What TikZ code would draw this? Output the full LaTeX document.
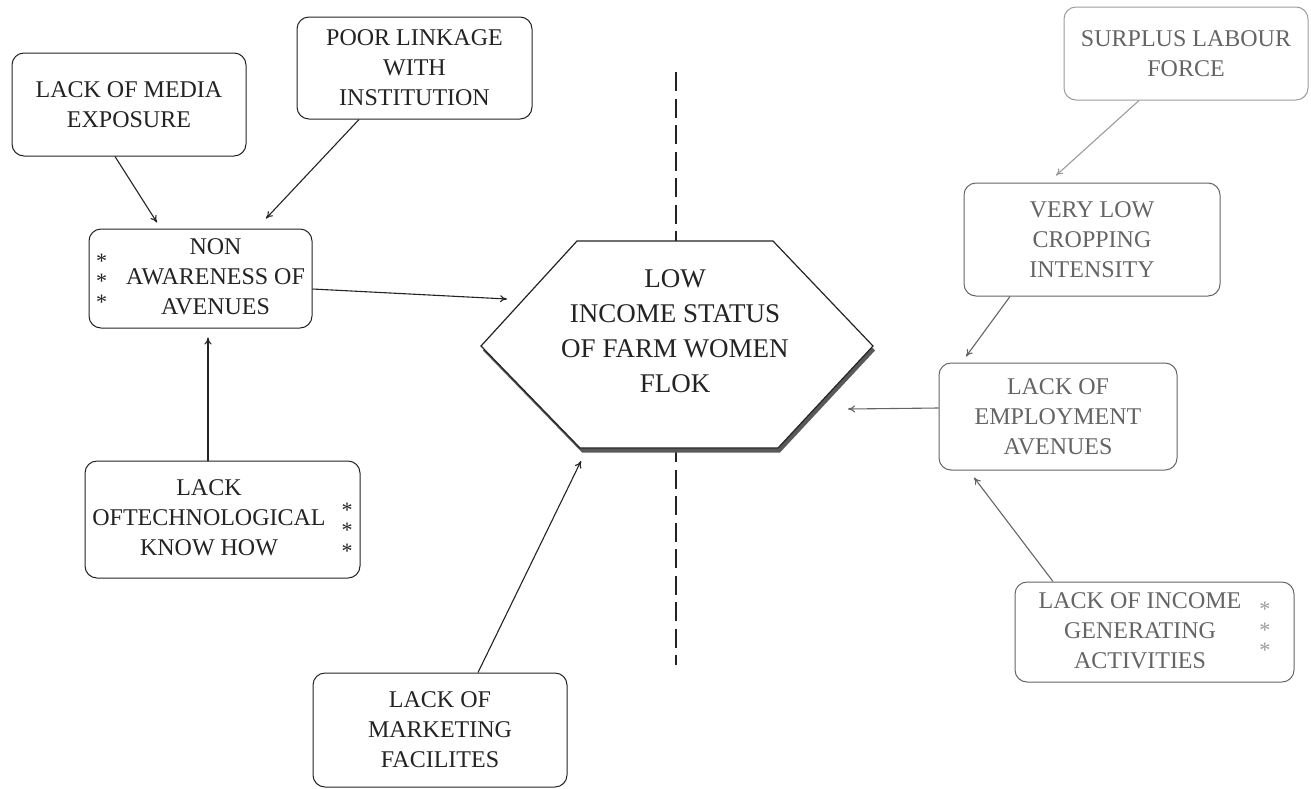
\documentclass[tikz,border=0pt]{standalone}
\usepackage{fontspec}
\setmainfont{Liberation Serif}
\usepackage{tikz}
\usetikzlibrary{arrows.meta}
\definecolor{ink}{RGB}{35, 35, 35}
\definecolor{faded}{RGB}{100, 100, 100}
\definecolor{pale}{RGB}{155, 155, 155}
\newcommand{\boxlines}[1]{\begin{tabular}{@{}c@{}}#1\end{tabular}}
\newcommand{\stars}[1][0pt]{\raisebox{#1}{\fontsize{22}{20.5}\selectfont\begin{tabular}{@{}c@{}}*\\{}*\\{}*\end{tabular}}}

\begin{document}
\begin{tikzpicture}[x=1pt, y=-1pt, thick,
  box/.style={draw=ink, text=ink, line width=1pt, rounded corners=12pt, align=center,
    inner sep=0pt, font=\fontsize{24}{30}\selectfont},
  arr/.style={-{To[length=7pt, width=7pt]}, line width=1.1pt, draw=ink}]

  \useasboundingbox (0, 0) rectangle (1311, 788);

  % dashed axis behind the hexagon
  \coordinate (axistop) at (676, 72);
  \coordinate (axisbot) at (676, 665);
  \draw[ink, line width=1.2pt, dash pattern=on 19pt off 7.5pt] (axistop) -- (axisbot);

  % hexagon with its shadow
  \fill[gray!70!black, shift={(2, 4.5)}] (577, 241) -- (773, 241) -- (873, 346)
    -- (778, 448) -- (580, 448) -- (481, 346) -- cycle;
  \filldraw[fill=white, draw=ink, line width=1.2pt] (577, 241) -- (773, 241) -- (873, 346)
    -- (778, 448) -- (580, 448) -- (481, 346) -- cycle;
  \node[text=ink, align=center, font=\fontsize{27}{35}\selectfont] (status) at (675, 331.5)
    {LOW\\INCOME STATUS\\OF FARM WOMEN\\FLOK};

  \coordinate (hexW) at (507, 299);
  \coordinate (hexS) at (581, 461);
  \coordinate (hexE) at (848, 409);

  % left side
  \node[box, minimum width=234pt, minimum height=103pt] (media) at (129, 104.5)
    {LACK OF MEDIA\\EXPOSURE};
  \node[box, minimum width=235pt, minimum height=102pt] (linkage) at (414.5, 68)
    {POOR LINKAGE\\WITH\\INSTITUTION};
  \node[box, minimum width=223pt, minimum height=99pt] (non) at (200.5, 278.5)
    {\stars[-5pt]\hspace{19pt}\boxlines{NON\\AWARENESS OF\\AVENUES}};
  \node[box, minimum width=275pt, minimum height=117pt] (tech) at (222.5, 519.5)
    {\boxlines{LACK\\OFTECHNOLOGICAL\\KNOW HOW}\hspace{16pt}\stars[-13pt]};
  \node[box, minimum width=254pt, minimum height=114pt] (market) at (440, 730)
    {LACK OF\\MARKETING\\FACILITES};

  % right side
  \node[box, draw=pale, text=faded, minimum width=244pt, minimum height=93pt] (surplus) at (1186, 53.5)
    {SURPLUS LABOUR\\FORCE};
  \node[box, draw=faded, text=faded, minimum width=256pt, minimum height=113pt] (crop) at (1092, 239.5)
    {VERY LOW\\CROPPING\\INTENSITY};
  \node[box, draw=faded, text=faded, minimum width=238pt, minimum height=107pt] (employ) at (1058, 416.5)
    {LACK OF\\EMPLOYMENT\\AVENUES};
  \node[box, draw=faded, text=faded, minimum width=279pt, minimum height=100pt] (income) at (1154.5, 632)
    {\boxlines{LACK OF INCOME\\GENERATING\\ACTIVITIES}\hspace{18pt}{\color{pale}\stars}};

  \draw[arr] ([xshift=-14pt]media.south) -- ([xshift=-43.5pt, yshift=6pt]non.north);
  \draw[arr] ([xshift=-55.5pt]linkage.south) -- ([xshift=65.5pt, yshift=10pt]non.north);
  \draw[arr] ([yshift=-10.5pt]non.east) -- (hexW);
  \draw[arr] ([xshift=-14.5pt]tech.north) -- ([xshift=7.5pt, yshift=-9pt]non.south);
  \draw[arr] ([xshift=38pt]market.north) -- (hexS);

  \draw[arr, draw=pale] ([xshift=-47pt]surplus.south) -- ([xshift=-36pt, yshift=7pt]crop.north);
  \draw[arr, draw=faded] ([xshift=-82pt]crop.south) -- ([xshift=-92pt, yshift=6pt]employ.north);
  \draw[arr, draw=faded] ([yshift=8.5pt]employ.west) -- (hexE);
  \draw[arr, draw=faded] ([xshift=-101.5pt]income.north) -- ([xshift=-84pt, yshift=-7pt]employ.south);

\end{tikzpicture}
\end{document}
